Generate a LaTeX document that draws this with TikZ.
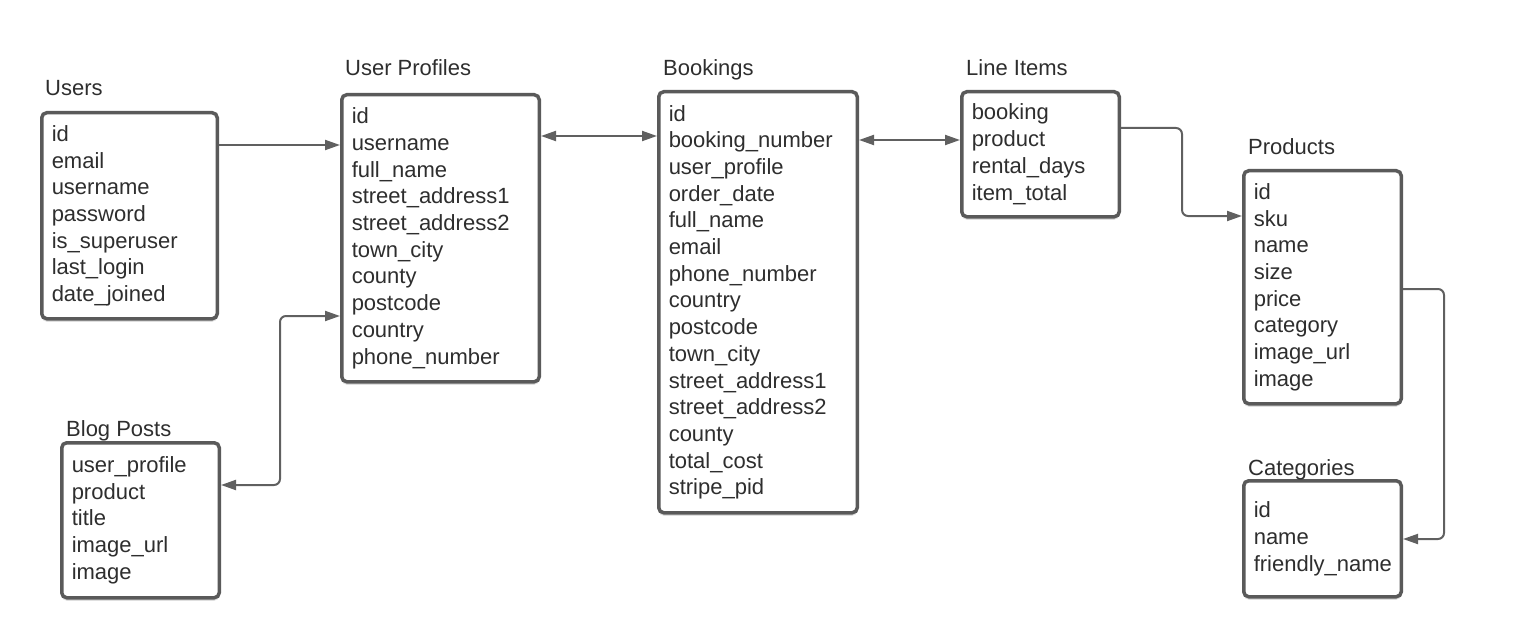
\documentclass[tikz,border=0pt]{standalone}
\usepackage{fontspec}
\setmainfont{Liberation Sans}
\usetikzlibrary{arrows.meta,shadows}
\definecolor{boxc}{HTML}{5A5A5A}
\definecolor{linec}{HTML}{606060}
\definecolor{txt}{HTML}{2E2E2E}
\newcommand{\fieldfont}{\fontsize{22}{26.7}\selectfont}
\tikzset{
  tbl/.style={draw=boxc, line width=3.5pt, rounded corners=5pt, fill=white,
    drop shadow={shadow xshift=0pt, shadow yshift=-3pt, opacity=0.25},
    anchor=north west, inner xsep=10pt, align=left, text=txt, font=\fieldfont},
  ttl/.style={anchor=base west, inner sep=0pt, text=txt, font=\fieldfont},
  link/.style={draw=linec, line width=2pt, rounded corners=6pt,
    >={Triangle[length=15pt,width=10pt]}}
}
\begin{document}
\begin{tikzpicture}[x=1pt, y=-1pt]
\useasboundingbox (0,0) rectangle (1522,639);
% tables
\node[tbl, text width=155.5pt, minimum height=206pt] (users) at (40,111)
  {id\\email\\username\\password\\is\_superuser\\last\_login\\date\_joined};
\node[tbl, text width=177.5pt, minimum height=287pt] (prof) at (340,93)
  {id\\username\\full\_name\\street\_address1\\street\_address2\\town\_city\\county\\postcode\\country\\phone\_number};
\node[tbl, text width=178.5pt, minimum height=421pt] (book) at (657,90)
  {id\\booking\_number\\user\_profile\\order\_date\\full\_name\\email\\phone\_number\\country\\postcode\\town\_city\\street\_address1\\street\_address2\\county\\total\_cost\\stripe\_pid};
\node[tbl, text width=137.5pt, minimum height=125pt] (items) at (960,90)
  {booking\\product\\rental\_days\\item\_total};
\node[tbl, text width=137.5pt, minimum height=233pt] (prod) at (1242,169)
  {id\\sku\\name\\size\\price\\category\\image\_url\\image};
\node[tbl, text width=137.5pt, minimum height=116pt] (cat) at (1242,479)
  {id\\name\\friendly\_name};
\node[tbl, text width=137.5pt, minimum height=155pt] (blog) at (60,441)
  {user\_profile\\product\\title\\image\_url\\image};
% titles
\foreach \x/\y/\t in {45/96/Users, 345/76/User Profiles, 663/76/Bookings,
    966/76/Line Items, 1248/155/Products, 1248/475/Categories, 66/436/Blog Posts}
  \node[ttl] at (\x,\y) {\t};
% links
\draw[link,->] (users.east |- 0,145) -- (prof.west |- 0,145);
\draw[link,<->] (blog.east |- 0,485) -| (280,316) -- (prof.west |- 0,316);
\draw[link,<->] (prof.east |- 0,136) -- (book.west |- 0,136);
\draw[link,<->] (book.east |- 0,140) -- (items.west |- 0,140);
\draw[link,->] (items.east |- 0,128) -| (1182,216) -- (prod.west |- 0,216);
\draw[link,->] (prod.east |- 0,289) -| (1444,539) -- (cat.east |- 0,539);
\end{tikzpicture}
\end{document}
